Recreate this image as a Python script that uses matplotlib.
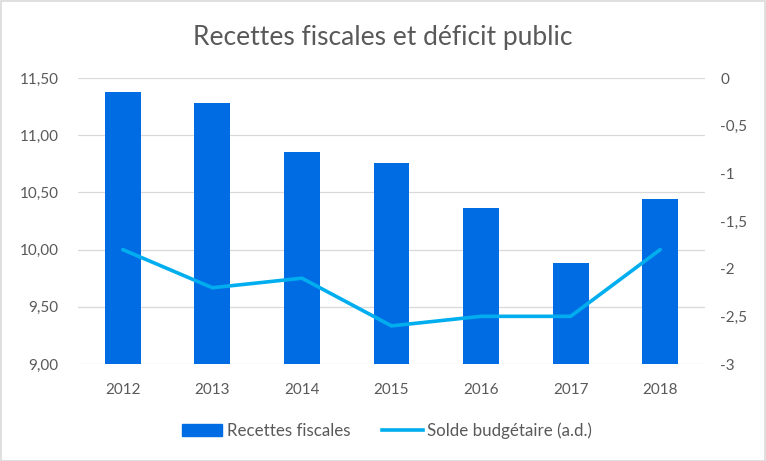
import matplotlib
matplotlib.use("Agg")
import matplotlib.pyplot as plt
from matplotlib.patches import Rectangle
from matplotlib.lines import Line2D
from matplotlib.ticker import FixedLocator

years = ["2012", "2013", "2014", "2015", "2016", "2017", "2018"]
recettes = [11.38, 11.28, 10.85, 10.76, 10.36, 9.88, 10.44]
solde = [-1.8, -2.2, -2.1, -2.6, -2.5, -2.5, -1.8]
left_ticks = [9.0, 9.5, 10.0, 10.5, 11.0, 11.5]
right_ticks = [0, -0.5, -1, -1.5, -2, -2.5, -3]

plt.rcParams['font.family'] = ['Lato', 'DejaVu Sans']
txt = "#595959"
bar_color = "#006CE4"
line_color = "#00AEEF"

W, H = 766, 461
fig = plt.figure(figsize=(W/100, H/100), dpi=100)
ax = fig.add_axes([78/W, 1-364/H, (705-78)/W, (364-78)/H])
x = list(range(len(years)))
ax.bar(x, [r - 9.0 for r in recettes], bottom=9.0, width=0.4, color=bar_color, zorder=2)
ax.set_ylim(9.0, 11.5)
ax.set_xlim(-0.5, len(years) - 0.5)
ax.yaxis.set_major_locator(FixedLocator(left_ticks))
ax.set_yticklabels([f"{v:.2f}".replace(".", ",") for v in left_ticks])
ax.set_xticks(x)
ax.set_xticklabels(years)
ax.grid(axis='y', color="#d9d9d9", linewidth=0.9, zorder=0)
for s in ax.spines.values():
    s.set_visible(False)
ax.tick_params(axis='both', length=0, colors=txt, labelsize=11)
ax.tick_params(axis='y', pad=14)
ax.tick_params(axis='x', pad=14)

ax2 = ax.twinx()
ax2.plot(x, solde, color=line_color, linewidth=2.6, solid_capstyle='round', zorder=3)
ax2.set_ylim(-3, 0)
ax2.yaxis.set_major_locator(FixedLocator(right_ticks))
ax2.set_yticklabels([("%g" % v).replace(".", ",") for v in right_ticks])
for s in ax2.spines.values():
    s.set_visible(False)
ax2.tick_params(axis='y', length=0, colors=txt, labelsize=11, pad=11)

fig.text(0.5, 1-37/H, "Recettes fiscales et déficit public", ha='center', va='center',
         fontsize=19, color=txt)

handles = [Rectangle((0, 0), 1, 1, color=bar_color),
           Line2D([0], [0], color=line_color, linewidth=2.6)]
fig.legend(handles, ["Recettes fiscales", "Solde budgétaire (a.d.)"], loc='center',
           bbox_to_anchor=(387/W, 1-431/H), ncol=2, frameon=False, fontsize=12.2,
           labelcolor=txt, handlelength=2.4, handletextpad=0.25, columnspacing=1.9,
           handleheight=0.7)

fig.add_artist(Rectangle((0.5/W, 0.5/H), 1-1.5/W, 1-1.5/H, transform=fig.transFigure,
                         fill=False, edgecolor="#d9d9d9", linewidth=1.2))
fig.savefig("out.png", dpi=100, facecolor="white")
